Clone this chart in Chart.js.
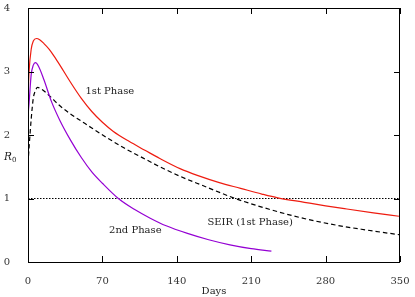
<!DOCTYPE html>
<html>
<head>
<meta charset="utf-8">
<script src="https://cdn.jsdelivr.net/npm/chart.js@4"></script>
<style>
  html, body { margin: 0; padding: 0; background: #fff; }
  #wrap { width: 415px; height: 297px; }
</style>
</head>
<body>
<div id="wrap"><canvas id="r0Chart" width="415" height="297"></canvas></div>
<script>
// values
const phase1Days = [0, 1, 3, 5, 8, 11, 15, 20, 25, 30, 40, 50, 60, 70, 80, 95, 110, 124, 143, 160, 180, 200, 220, 235, 260, 280, 300, 325, 349];
const phase1R0 = [2.6, 3.0, 3.35, 3.48, 3.52, 3.5, 3.44, 3.35, 3.23, 3.1, 2.83, 2.58, 2.37, 2.2, 2.06, 1.9, 1.76, 1.63, 1.47, 1.36, 1.25, 1.16, 1.07, 1.01, 0.94, 0.885, 0.835, 0.775, 0.72];

const phase2Days = [0, 1, 3, 5, 7, 10, 15, 22, 30, 40, 50, 60, 70, 85, 100, 115, 130, 150, 170, 190, 210, 229];
const phase2R0 = [2.3, 2.5, 2.95, 3.1, 3.14, 3.08, 2.87, 2.53, 2.23, 1.92, 1.65, 1.42, 1.24, 1.0, 0.83, 0.69, 0.57, 0.45, 0.35, 0.27, 0.21, 0.17];

const seirDays = [0, 1, 3, 5, 7, 9, 12, 16, 20, 30, 40, 50, 60, 75, 91, 108, 124, 143, 165, 195, 227, 256, 290, 320, 349];
const seirR0 = [1.55, 1.8, 2.25, 2.58, 2.7, 2.75, 2.73, 2.68, 2.62, 2.46, 2.33, 2.22, 2.11, 1.95, 1.79, 1.64, 1.5, 1.35, 1.2, 1.0, 0.83, 0.7, 0.58, 0.5, 0.43];

const refDays = [0, 350];
const refR0 = [1, 1];

const xTicks = [0, 70, 140, 210, 280, 350];
const yTicks = [0, 1, 2, 3, 4];

const curveLabels = [
  { text: '1st Phase', x: 77, y: 2.68 },
  { text: '2nd Phase', x: 101, y: 0.5 },
  { text: 'SEIR (1st Phase)', x: 209, y: 0.63 }
];

const serif = '"DejaVu Serif", "Liberation Serif", serif';
const pts = (xs, ys) => xs.map((x, i) => ({ x: x, y: ys[i] }));

/* frame, inner ticks and curve labels */
const framePlugin = {
  id: 'frame',
  afterDraw(chart) {
    const c = chart.ctx, a = chart.chartArea;
    const sx = chart.scales.x, sy = chart.scales.y;
    c.save();
    c.strokeStyle = '#000';
    c.lineWidth = 1;
    c.strokeRect(a.left + 0.5, a.top + 0.5, a.right - a.left - 1, a.bottom - a.top);
    c.beginPath();
    xTicks.forEach(v => {
      const px = Math.round(sx.getPixelForValue(v)) + 0.5;
      c.moveTo(px, a.bottom); c.lineTo(px, a.bottom - 6);
      c.moveTo(px, a.top); c.lineTo(px, a.top + 6);
    });
    yTicks.forEach(v => {
      const py = Math.round(sy.getPixelForValue(v)) + 0.5;
      c.moveTo(a.left, py); c.lineTo(a.left + 6, py);
      c.moveTo(a.right, py); c.lineTo(a.right - 6, py);
    });
    c.stroke();

    c.fillStyle = '#222';
    c.font = '10px ' + serif;
    c.textAlign = 'center';
    c.textBaseline = 'middle';
    curveLabels.forEach(l => c.fillText(l.text, sx.getPixelForValue(l.x), sy.getPixelForValue(l.y)));

    // R0 axis label
    c.font = 'italic 10.5px ' + serif;
    c.textAlign = 'left';
    c.fillText('R', 4, 157);
    c.font = '7px ' + serif;
    c.fillText('0', 12, 160);
    c.restore();
  }
};

const noPad = s => { s.paddingTop = 0; s.paddingBottom = 0; s.paddingLeft = 0; s.paddingRight = 0; };

new Chart(document.getElementById('r0Chart'), {
  type: 'line',
  data: {
    datasets: [
      {
        label: '1st Phase',
        data: pts(phase1Days, phase1R0),
        borderColor: '#ee1c10',
        borderWidth: 1.2,
        cubicInterpolationMode: 'monotone',
        pointRadius: 0
      },
      {
        label: '2nd Phase',
        data: pts(phase2Days, phase2R0),
        borderColor: '#9400d3',
        borderWidth: 1.2,
        cubicInterpolationMode: 'monotone',
        pointRadius: 0
      },
      {
        label: 'SEIR (1st Phase)',
        data: pts(seirDays, seirR0),
        borderColor: '#000',
        borderWidth: 1.2,
        borderDash: [4.5, 3],
        cubicInterpolationMode: 'monotone',
        pointRadius: 0
      },
      {
        label: 'R0 = 1',
        data: pts(refDays, refR0),
        borderColor: '#000',
        borderWidth: 1,
        borderDash: [1.5, 1.5],
        pointRadius: 0
      }
    ]
  },
  options: {
    responsive: false,
    animation: false,
    layout: { padding: { top: 8, right: 15, left: 0, bottom: 0 } },
    plugins: { legend: { display: false }, tooltip: { enabled: false } },
    scales: {
      x: {
        type: 'linear',
        min: 0,
        max: 350,
        afterBuildTicks: s => { s.ticks = xTicks.map(v => ({ value: v })); },
        afterFit: s => { s.height = 35; noPad(s); },
        grid: { display: false },
        border: { display: false },
        ticks: { color: '#333', font: { family: serif, size: 10 }, padding: 5, maxRotation: 0 },
        title: { display: true, text: 'Days', color: '#222', font: { family: serif, size: 10 }, padding: { top: 3, bottom: 0 } }
      },
      y: {
        min: 0,
        max: 4,
        afterBuildTicks: s => { s.ticks = yTicks.map(v => ({ value: v })); },
        afterFit: s => { s.width = 28; noPad(s); },
        grid: { display: false },
        border: { display: false },
        ticks: { color: '#333', font: { family: serif, size: 10 }, padding: 10 }
      }
    }
  },
  plugins: [framePlugin]
});
</script>
</body>
</html>
